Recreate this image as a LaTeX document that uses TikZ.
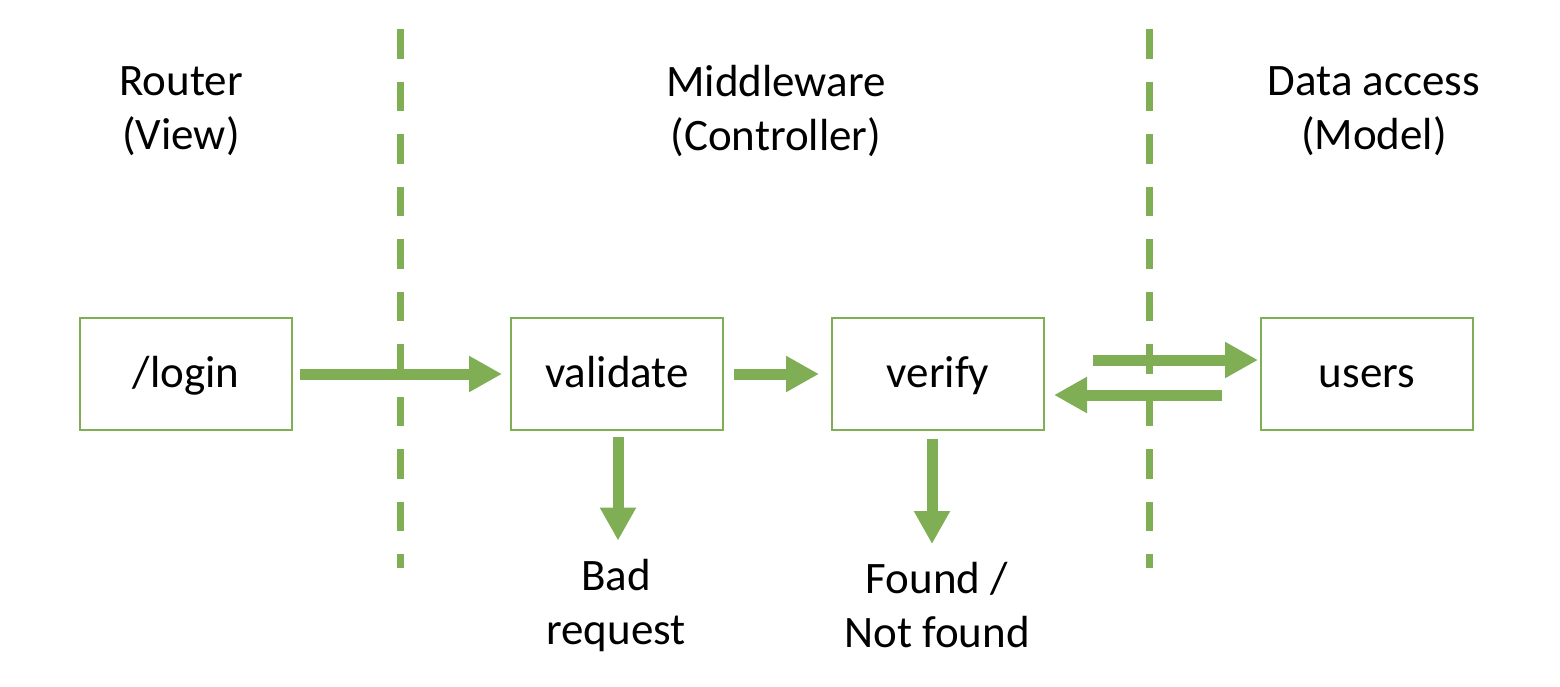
\documentclass[tikz,border=0pt]{standalone}
\usepackage{fontspec}
\setmainfont{Carlito}
\usetikzlibrary{arrows.meta,calc}
\definecolor{grn}{RGB}{127,174,85}
\tikzset{
  box/.style={draw=grn,line width=2pt,minimum width=212pt,minimum height=112pt,inner sep=0pt,text height=26pt,text depth=0pt,font=\fontsize{45}{54}\selectfont},
  lbl/.style={align=center,inner sep=0pt,font=\fontsize{45}{54}\selectfont},
  flow/.style={draw=grn,line width=11pt,-{Triangle[length=33pt,width=34pt]}},
  divider/.style={draw=grn,line width=7pt,dash pattern=on 29.5pt off 23pt}
}
\begin{document}
\begin{tikzpicture}[x=1pt,y=-1pt]
\useasboundingbox (0,0) rectangle (1560,686);
% headings
\node[lbl] (hrouter) at (181,111) {Router\\(View)};
\node[lbl] (hmid) at (776,111) {Middleware\\(Controller)};
\node[lbl] (hdata) at (1374,111) {Data access\\(Model)};
% dividers
\coordinate (d1t) at (400,29);
\coordinate (d1b) at (400,568);
\coordinate (d2t) at (1149,29);
\coordinate (d2b) at (1149,568);
\draw[divider] (d1t) -- (d1b);
\draw[divider] (d2t) -- (d2b);
% boxes
\node[box] (login) at (186,374) {/login};
\node[box] (validate) at (617,374) {validate};
\node[box] (verify) at (938,374) {verify};
\node[box] (users) at (1367,374) {users};
% outcome labels
\node[lbl] (bad) at (616,605) {Bad\\request};
\node[lbl] (found) at (937,605) {Found /\\Not found};
% arrows
\draw[flow,shorten <=7pt,shorten >=8pt] (login.east) -- (validate.west);
\draw[flow,shorten <=10pt,shorten >=12pt] (validate.east) -- (verify.west);
\draw[flow] ($(verify.east)+(48,-14)$) -- ($(users.west)+(-2,-14)$);
\draw[flow] ($(users.west)+(-38,21)$) -- ($(verify.east)+(9,21)$);
\draw[flow] ($(validate.south)+(1,6)$) -- ($(bad.north)+(2,-18)$);
\draw[flow] ($(verify.south)+(-6,8)$) -- ($(found.north)+(-5,-18)$);
\end{tikzpicture}
\end{document}
